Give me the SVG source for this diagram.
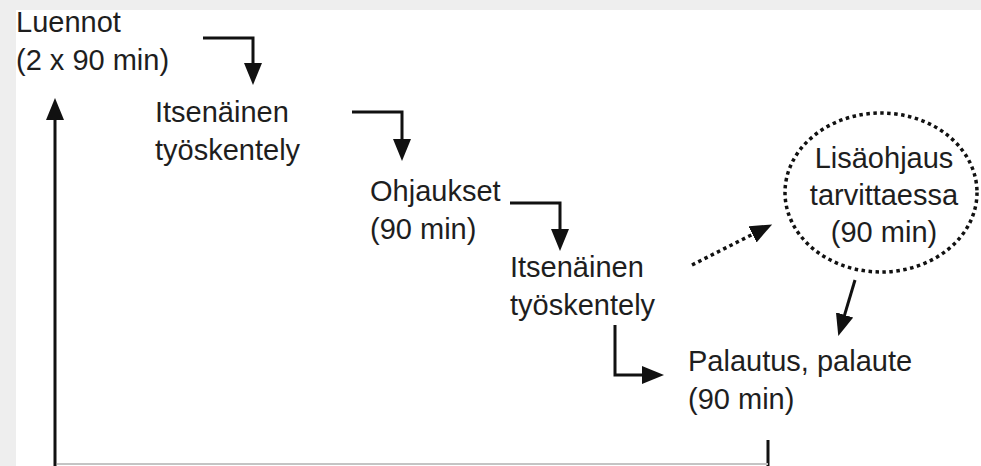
<svg xmlns="http://www.w3.org/2000/svg" width="981" height="466" viewBox="0 0 981 466">
  <style>
    .t { font-family: "Liberation Sans", Arial, sans-serif; font-size: 29px; fill: #1e1e1e; }
    .c { text-anchor: middle; }
    .ln { fill: none; stroke: #111; stroke-width: 3; }
    .dot { fill: none; stroke: #111; stroke-width: 3.5; stroke-dasharray: 3.5 3.5; }
  </style>
  <defs>
    <marker id="ah" markerUnits="userSpaceOnUse" markerWidth="24" markerHeight="20" refX="1" refY="9" orient="auto">
      <path d="M0,0 L22,9 L0,18 z" fill="#111"/>
    </marker>
  </defs>
  <rect x="0" y="0" width="981" height="466" fill="#ffffff"/>
  <rect x="0" y="0" width="16" height="466" fill="#eeeeee"/>
  <rect x="0" y="0" width="981" height="10" fill="#eeeeee"/>

  <g id="connectors">
    <path class="ln" d="M203,38 H253 V64" marker-end="url(#ah)"/>
    <path class="ln" d="M352,112 H402 V140" marker-end="url(#ah)"/>
    <path class="ln" d="M510,203 H560 V230" marker-end="url(#ah)"/>
    <path class="ln" d="M615,325 V375 H643" marker-end="url(#ah)"/>
    <path class="dot" d="M692,265 L753.4,233.9" marker-end="url(#ah)"/>
    <path class="ln" d="M855,280 L844.3,315.9" marker-end="url(#ah)"/>
    <path class="ln" d="M768,440 V466"/>
    <path class="ln" d="M55,466 V119" marker-end="url(#ah)"/>
    <path d="M57,464 H768" fill="none" stroke="#c4c4c4" stroke-width="2"/>
  </g>

  <g id="luennot">
    <text class="t" x="16" y="32">Luennot</text>
    <text class="t" x="16" y="70">(2 x 90 min)</text>
  </g>
  <g id="itsenainen1">
    <text class="t" x="155" y="122">Itsenäinen</text>
    <text class="t" x="155" y="160">työskentely</text>
  </g>
  <g id="ohjaukset">
    <text class="t" x="370" y="201">Ohjaukset</text>
    <text class="t" x="370" y="239">(90 min)</text>
  </g>
  <g id="itsenainen2">
    <text class="t" x="510" y="277">Itsenäinen</text>
    <text class="t" x="510" y="315">työskentely</text>
  </g>
  <g id="lisaohjaus">
    <ellipse class="dot" cx="881" cy="192.5" rx="96" ry="79.5"/>
    <text class="t c" x="884" y="168">Lisäohjaus</text>
    <text class="t c" x="884" y="205">tarvittaessa</text>
    <text class="t c" x="884" y="242">(90 min)</text>
  </g>
  <g id="palautus">
    <text class="t" x="688" y="371">Palautus, palaute</text>
    <text class="t" x="688" y="409">(90 min)</text>
  </g>
</svg>
